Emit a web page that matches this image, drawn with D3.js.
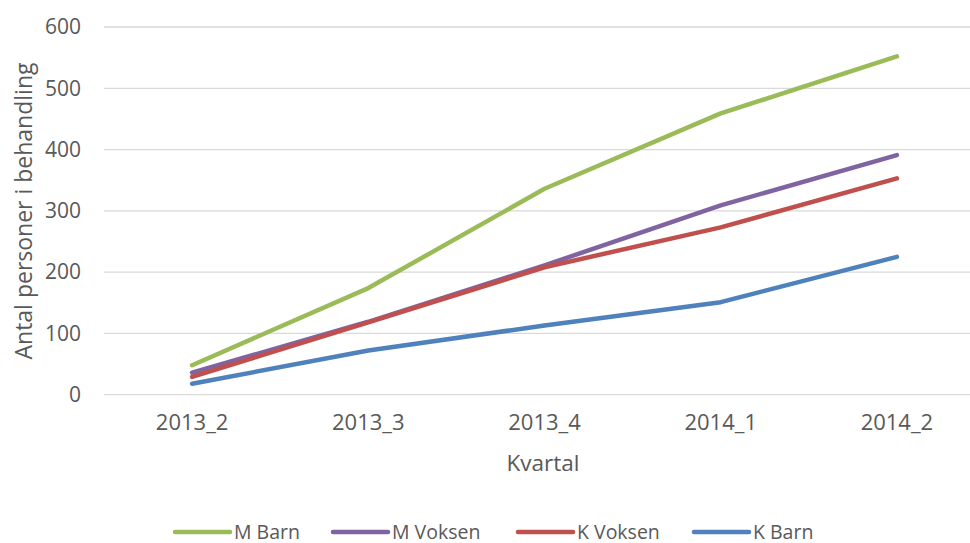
<!DOCTYPE html>
<html>
<head>
<meta charset="utf-8">
<script src="https://cdn.jsdelivr.net/npm/d3@7"></script>
<style>
html,body{margin:0;padding:0;background:#fff;}
svg{display:block;font-family:"Open Sans",sans-serif;}
</style>
</head>
<body>
<svg id="chart" width="970" height="543"></svg>
<script>
const categories = ["2013_2","2013_3","2013_4","2014_1","2014_2"];
const seriesNames = ["M Barn","M Voksen","K Voksen","K Barn"];
const seriesColors = ["#9BBB59","#8064A2","#C0504D","#4F81BD"];
const mBarn = [48, 174, 336, 459, 552];
const mVoksen = [36, 119, 211, 309, 391];
const kVoksen = [29, 118, 208, 273, 353];
const kBarn = [18, 72, 113, 151, 225];
const yTicks = [0,100,200,300,400,500,600];
const yLabel = "Antal personer i behandling";
const xLabel = "Kvartal";

const seriesValues = [mBarn, mVoksen, kVoksen, kBarn];

(function () {
const svg = d3.select("#chart");
const pLeft = 104, pRight = 985, pTop = 27, pBottom = 394.7;
const x = d3.scaleBand().domain(categories).range([pLeft, pRight]);
const y = d3.scaleLinear().domain([0, 600]).range([pBottom, pTop]);
const textColor = "#595959";

// gridlines
svg.append("g").selectAll("line").data(yTicks).join("line")
  .attr("x1", pLeft).attr("x2", pRight)
  .attr("y1", d => y(d)).attr("y2", d => y(d))
  .attr("stroke", "#d9d9d9").attr("stroke-width", 1.3);

// y axis labels
const yAxis = d3.axisLeft(y).tickValues(yTicks).tickSize(0).tickPadding(0);
const gy = svg.append("g").attr("transform", `translate(81,0)`).call(yAxis);
gy.select(".domain").remove();
gy.selectAll("text").attr("font-size", 21).attr("fill", textColor)
  .attr("font-family", "Open Sans, sans-serif");

// x axis labels
const xAxis = d3.axisBottom(x).tickSize(0).tickPadding(0);
const gx = svg.append("g").attr("transform", `translate(0,${pBottom + 20})`).call(xAxis);
gx.select(".domain").remove();
gx.selectAll("text").attr("font-size", 22).attr("fill", textColor)
  .attr("font-family", "Open Sans, sans-serif");

// axis titles
svg.append("text").attr("x", 543).attr("y", 471).attr("text-anchor", "middle")
  .attr("font-size", 22.5).attr("fill", textColor).text(xLabel);
svg.append("text").attr("transform", "translate(32,211) rotate(-90)")
  .attr("text-anchor", "middle").attr("font-size", 23).attr("fill", textColor).text(yLabel);

// lines
const line = d3.line().x((d, i) => x(categories[i]) + x.bandwidth() / 2).y(d => y(d));
seriesValues.forEach((vals, k) => {
  svg.append("path").datum(vals).attr("d", line)
    .attr("fill", "none").attr("stroke", seriesColors[k])
    .attr("stroke-width", 4.5).attr("stroke-linecap", "round").attr("stroke-linejoin", "round");
});

// legend
const legendX = [175, 333, 518, 694];
const lg = svg.append("g");
seriesNames.forEach((name, k) => {
  const g = lg.append("g").attr("transform", `translate(${legendX[k]},532)`);
  g.append("line").attr("x1", 0).attr("x2", 55).attr("y1", 0).attr("y2", 0)
    .attr("stroke", seriesColors[k]).attr("stroke-width", 4.5).attr("stroke-linecap", "round");
  g.append("text").attr("x", 59).attr("y", 6.5).attr("font-size", 19.5).attr("fill", textColor).text(name);
});
})();
</script>
</body>
</html>
